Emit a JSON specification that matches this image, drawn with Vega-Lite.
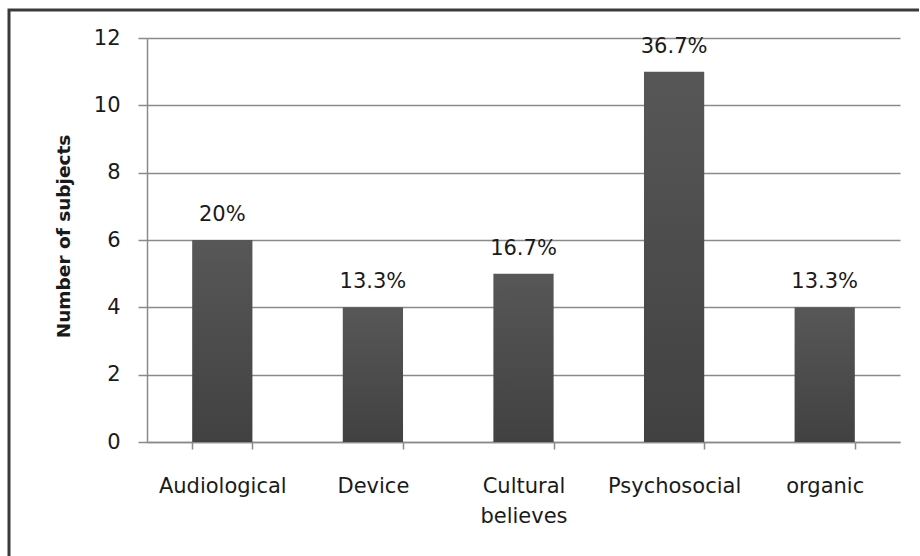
{
  "$schema": "https://vega.github.io/schema/vega-lite/v6.json",
  "width": 910,
  "height": 546,
  "autosize": {"type": "none"},
  "padding": {"left": 9, "top": 10, "right": 0, "bottom": 0},
  "background": "white",
  "config": {
    "font": "DejaVu Sans",
    "view": {"stroke": "#3a3a3a", "strokeWidth": 3, "strokeDash": [910, 1456, 546]}
  },
  "data": {
    "values": [
      {"cause": "Audiological", "subjects": 6, "pct": "20%"},
      {"cause": "Device", "subjects": 4, "pct": "13.3%"},
      {"cause": "Cultural believes", "subjects": 5, "pct": "16.7%"},
      {"cause": "Psychosocial", "subjects": 11, "pct": "36.7%"},
      {"cause": "organic", "subjects": 4, "pct": "13.3%"}
    ]
  },
  "encoding": {
    "x": {
      "field": "cause",
      "type": "nominal",
      "sort": null,
      "scale": {"range": [138, 891], "paddingInner": 0.6, "paddingOuter": 0.3},
      "axis": {
        "title": null,
        "offset": -114,
        "tickBand": "extent",
        "tickSize": 7,
        "tickWidth": 1.5,
        "tickColor": "#8a8a8a",
        "domainColor": "#8a8a8a",
        "domainWidth": 1.5,
        "labelAngle": 0,
        "labelPadding": 26,
        "labelBaseline": "top",
        "labelExpr": "split(datum.label, ' ')",
        "labelLineHeight": 30,
        "labelFontSize": 21,
        "labelColor": "#1a1a1a",
        "grid": false
      }
    },
    "y": {
      "field": "subjects",
      "type": "quantitative",
      "scale": {"domain": [0, 12], "range": [432, 28], "nice": false},
      "axis": {
        "title": "Number of subjects",
        "titleFontSize": 18.5,
        "titleFontWeight": "bold",
        "titleColor": "#1a1a1a",
        "titlePadding": 20,
        "titleY": 226,
        "offset": -138,
        "values": [0, 2, 4, 6, 8, 10, 12],
        "grid": true,
        "gridColor": "#8a8a8a",
        "gridWidth": 1.5,
        "domainColor": "#8a8a8a",
        "domainWidth": 1.5,
        "tickColor": "#8a8a8a",
        "tickWidth": 1.5,
        "tickSize": 9,
        "labelPadding": 18,
        "labelFontSize": 21,
        "labelColor": "#1a1a1a"
      }
    }
  },
  "layer": [
    {
      "mark": {
        "type": "bar",
        "fill": {
          "gradient": "linear",
          "x1": 0, "y1": 0, "x2": 0, "y2": 1,
          "stops": [
            {"offset": 0, "color": "#575757"},
            {"offset": 1, "color": "#414141"}
          ]
        }
      }
    },
    {
      "mark": {"type": "text", "baseline": "alphabetic", "dy": -19, "fontSize": 21, "color": "#1a1a1a"},
      "encoding": {"text": {"field": "pct"}}
    }
  ]
}
